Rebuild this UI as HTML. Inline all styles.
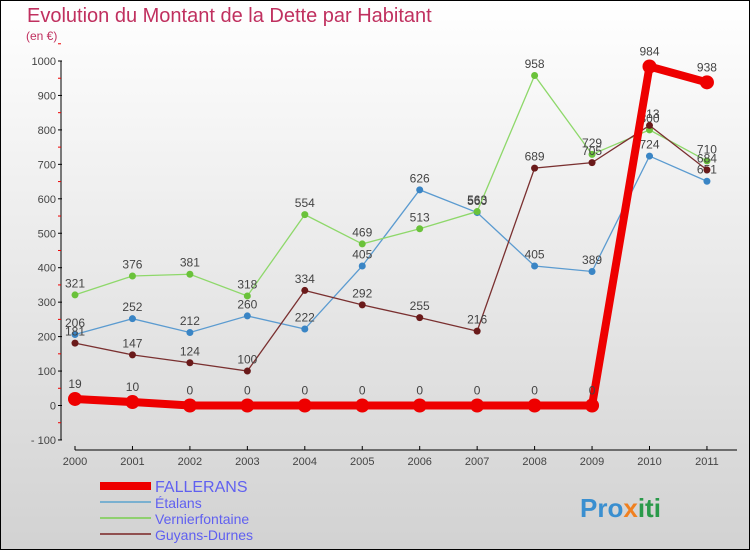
<!DOCTYPE html>
<html><head><meta charset="utf-8"><style>
html,body{margin:0;padding:0}
body{width:750px;height:550px;overflow:hidden;font-family:"Liberation Sans",sans-serif}
#wrap{position:absolute;left:0;top:0;width:748px;height:548px;border:1px solid #000;background:linear-gradient(#fff,#d2d2d2)}
</style></head><body>
<div id="wrap"></div>
<svg id="chart" width="750" height="550" style="position:absolute;left:0;top:0">
<text x="27" y="22" font-size="20" fill="#c0305f">Evolution du Montant de la Dette par Habitant</text>
<text x="26" y="40" font-size="12" fill="#c0305f">(en €)</text>
<g id="axes"></g><g id="series"></g><g id="legend"></g>
<text x="580" y="517" font-size="26" font-weight="bold" fill="#3a8fd0">Pro<tspan fill="#f08020">x</tspan><tspan fill="#2a9a4a">iti</tspan></text>
</svg>
<script>
const years=[2000,2001,2002,2003,2004,2005,2006,2007,2008,2009,2010,2011];
const yTicks=[-100,0,100,200,300,400,500,600,700,800,900,1000];
const fallerans=[19,10,0,0,0,0,0,0,0,0,984,938];
const etalans=[206,252,212,260,222,405,626,560,405,389,724,651];
const vernier=[321,376,381,318,554,469,513,563,958,729,800,710];
const guyans=[181,147,124,100,334,292,255,216,689,705,813,684];
const NS="http://www.w3.org/2000/svg";
function X(i){return 75+i*57.45;}
function Y(v){return 405.5-v*0.3445;}
function mk(t,a,p){const e=document.createElementNS(NS,t);for(const k in a)e.setAttribute(k,a[k]);p.appendChild(e);return e;}
const ax=document.getElementById('axes');
const yl=mk('line',{x1:61,y1:Y(1000),x2:61,y2:Y(-100),stroke:'#000','stroke-width':1},ax);


yTicks.forEach(v=>{
 mk('line',{x1:58,y1:Y(v),x2:62,y2:Y(v),stroke:'#000'},ax);
 mk('line',{x1:58,y1:Y(v+50),x2:61,y2:Y(v+50),stroke:'#e00'},ax);
 const t=mk('text',{x:56,y:Y(v)+4,'font-size':11,fill:'#444','text-anchor':'end'},ax);
 t.textContent=v<0?'- '+(-v):v;
 
 
});
const xl=mk('line',{x1:75,y1:450,x2:737,y2:450,stroke:'#000'},ax);


years.forEach((y,i)=>{
 mk('line',{x1:X(i),y1:446,x2:X(i),y2:450,stroke:'#000'},ax);
 const t=mk('text',{x:X(i),y:465,'font-size':11,fill:'#444','text-anchor':'middle'},ax);
 t.textContent=y;
 
 
});
const sg=document.getElementById('series');
function draw(vals,color,dot,w,r,name){
 const g=mk('g',{},sg);
 
 
 mk('polyline',{points:vals.map((v,i)=>X(i)+','+Y(v)).join(' '),fill:'none',stroke:color,'stroke-width':w},g);
 vals.forEach((v,i)=>{
  const c=mk('circle',{cx:X(i),cy:Y(v),r:r,fill:dot},g);
  
  
  const t=mk('text',{x:X(i),y:Y(v)-r-4,'font-size':12,fill:'#444','text-anchor':'middle'},g);
  t.textContent=v;
  
  
 });
}
draw(etalans,'#5b9bd0','#3a85c5',1.3,3.5,'etalans');
draw(vernier,'#8ed86a','#6ac23a',1.3,3.5,'vernierfontaine');
draw(guyans,'#7a3030','#6a1a1a',1.3,3.5,'guyans-durnes');
draw(fallerans,'#ee0000','#ee0000',8,7,'fallerans');
const lg=document.getElementById('legend');
const items=[['FALLERANS','#ee0000',8,16],['Étalans','#7ab0d0',2,14],['Vernierfontaine','#90d070',2,14],['Guyans-Durnes','#905050',2,14]];
const ly=[492,508,524,540];
items.forEach((it,i)=>{
 const g=mk('g',{},lg);
 
 
 mk('line',{x1:100,y1:ly[i]-6,x2:151,y2:ly[i]-6,stroke:it[1],'stroke-width':it[2]},g);
 const t=mk('text',{x:155,y:ly[i],'font-size':it[3],fill:'#6060f0'},g);
 t.textContent=it[0];
});
</script>
</body></html>
